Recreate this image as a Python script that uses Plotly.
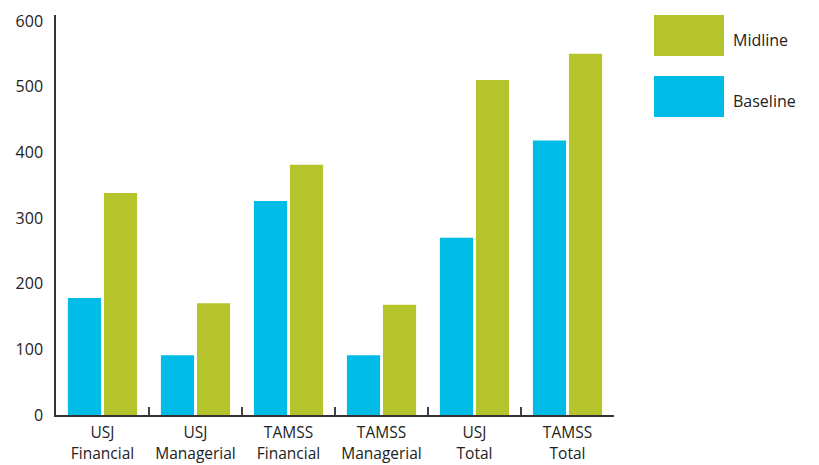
import plotly.graph_objects as go

categories = ["USJ<br>Financial", "USJ<br>Managerial", "TAMSS<br>Financial",
              "TAMSS<br>Managerial", "USJ<br>Total", "TAMSS<br>Total"]
baseline = [178, 91, 326, 91, 270, 418]
midline = [338, 170, 381, 168, 510, 550]
y_ticks = [0, 100, 200, 300, 400, 500, 600]

BLUE = "#00BCE6"
GREEN = "#B6C42B"
FONT = "Open Sans"
FS = 16

W, H = 819, 465
L, R, T, B = 56, 205, 15, 50
pw, ph = W - L - R, H - T - B


def px_x(p):
    return (p - L) / pw


def px_y(p):
    return (H - B - p) / ph


fig = go.Figure()
fig.add_trace(go.Bar(x=categories, y=baseline, name="Baseline",
                     marker=dict(color=BLUE, line=dict(width=0))))
fig.add_trace(go.Bar(x=categories, y=midline, name="Midline",
                     marker=dict(color=GREEN, line=dict(width=0))))

# legend: large swatches with labels to the right
legend_items = [("Midline", GREEN, 15, 56), ("Baseline", BLUE, 76, 117)]
for label, color, top, bottom in legend_items:
    fig.add_shape(type="rect", xref="paper", yref="paper",
                  x0=px_x(654), x1=px_x(724), y0=px_y(bottom), y1=px_y(top),
                  fillcolor=color, line=dict(width=0))
    fig.add_annotation(xref="paper", yref="paper", x=px_x(731),
                       y=px_y((top + bottom) / 2 + 4), text=label,
                       showarrow=False, xanchor="left", yanchor="middle",
                       font=dict(family=FONT, size=FS, color="#222"))

fig.update_layout(
    width=W, height=H,
    margin=dict(l=L, r=R, t=T, b=B, autoexpand=False),
    paper_bgcolor="white", plot_bgcolor="white",
    barmode="group", bargap=0.225, bargroupgap=0.08,
    showlegend=False,
    font=dict(family=FONT, size=FS, color="#222"),
)
fig.update_xaxes(
    automargin=False, tickangle=0,
    showline=True, linecolor="#333", linewidth=1.5,
    ticks="inside", tickson="boundaries", ticklen=8, tickwidth=1.5,
    tickcolor="#444", showgrid=False, zeroline=False,
    ticklabelstandoff=3,
    tickfont=dict(family=FONT, size=15.5, color="#222"),
)
fig.update_yaxes(
    automargin=False,
    range=[0, 609], tickvals=y_ticks, showgrid=False, zeroline=False,
    showline=True, linecolor="#333", linewidth=1.5, ticks="",
    ticklabelstandoff=8,
    tickfont=dict(family=FONT, size=FS, color="#222"),
)

fig.write_html("out.html")
